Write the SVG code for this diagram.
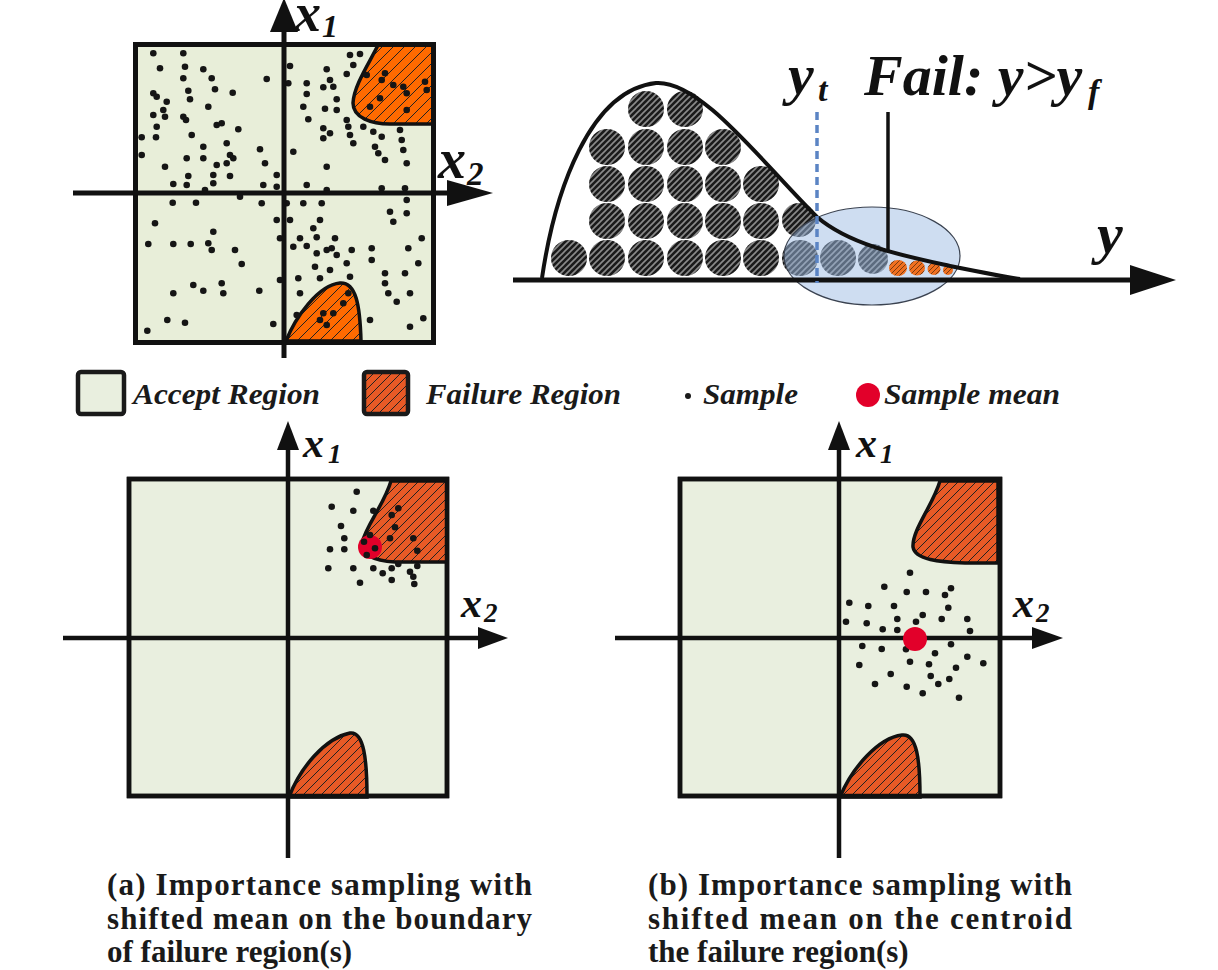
<svg xmlns="http://www.w3.org/2000/svg" width="1218" height="970" viewBox="0 0 1218 970">
<defs>
<style>
.acc{fill:#E9EFDF;stroke:#111;stroke-width:4.5}
.accT{fill:#E8EED9;stroke:#111;stroke-width:5}
.failT{fill:url(#hatchT);stroke:#111;stroke-width:3.5}
.fail{fill:url(#hatchB);stroke:#111;stroke-width:3.5}
.ax{stroke:#111;stroke-width:4.5;fill:none}
.axT{stroke:#111;stroke-width:5;fill:none}
.head{fill:#111}
.dot{fill:#151515}
.dots circle{r:3.3px}
.mean{fill:#E2002A}
.ball{fill:url(#hatchG)}
.blob{fill:url(#hatchO)}
.lbl{font-family:"Liberation Serif","Times New Roman",serif;font-style:italic;font-weight:bold;fill:#111}
.cap{font-family:"Liberation Serif","Times New Roman",serif;font-weight:bold;fill:#1a1a1a;font-size:31px}
.leg{font-family:"Liberation Serif","Times New Roman",serif;font-style:italic;font-weight:bold;fill:#1a1a1a;font-size:30px}
</style>
<pattern id="hatchT" patternUnits="userSpaceOnUse" width="11" height="11">
<rect width="11" height="11" fill="#FF6A00"/>
<path d="M0,11 L11,0 M-3,3 L3,-3 M8,14 L14,8" stroke="#222" stroke-width="1"/>
</pattern>
<pattern id="hatchB" patternUnits="userSpaceOnUse" width="9" height="9">
<rect width="9" height="9" fill="#E85A26"/>
<path d="M0,9 L9,0 M-3,3 L3,-3 M6,12 L12,6" stroke="#222" stroke-width="1"/>
</pattern>
<pattern id="hatchG" patternUnits="userSpaceOnUse" width="6" height="6">
<rect width="6" height="6" fill="#1a1a1a"/>
<path d="M0,6 L6,0 M-3,3 L3,-3 M3,9 L9,3" stroke="#8a8a8a" stroke-width="1.6"/>
</pattern>
<pattern id="hatchO" patternUnits="userSpaceOnUse" width="5" height="5">
<rect width="5" height="5" fill="#F07020"/>
<path d="M0,5 L5,0 M-2,2 L2,-2 M3,7 L7,3" stroke="#7a3a10" stroke-width="1"/>
</pattern>
</defs>
<rect width="1218" height="970" fill="#ffffff"/>

<g id="panel-top-left">
<rect class="accT" x="135.5" y="44.5" width="298" height="298"/>
<path class="failT" d="M378,45 C370,62 354,85 353,103 C353,118 372,124 390,124 L433,124 L433,45 Z"/>
<path class="failT" d="M286,341 C295,318 318,285 340,283 C356,282 360,305 361,341 Z"/>
<rect x="135.5" y="44.5" width="298" height="298" fill="none" stroke="#111" stroke-width="5"/>
<g class="dots">
<circle class="dot" cx="153.3" cy="53.3" r="3.3"/><circle class="dot" cx="183.3" cy="53.3" r="3.3"/><circle class="dot" cx="160" cy="68.3" r="3.3"/><circle class="dot" cx="185" cy="66.7" r="3.3"/><circle class="dot" cx="203.3" cy="69.3" r="3.3"/><circle class="dot" cx="183.3" cy="78.3" r="3.3"/><circle class="dot" cx="211.7" cy="78.3" r="3.3"/><circle class="dot" cx="266.7" cy="79" r="3.3"/><circle class="dot" cx="215" cy="89.3" r="3.3"/><circle class="dot" cx="232.7" cy="92.7" r="3.3"/><circle class="dot" cx="188.3" cy="90.7" r="3.3"/><circle class="dot" cx="153.3" cy="93.3" r="3.3"/><circle class="dot" cx="156.7" cy="96.7" r="3.3"/><circle class="dot" cx="166.7" cy="101.7" r="3.3"/><circle class="dot" cx="190" cy="99.3" r="3.3"/><circle class="dot" cx="208.3" cy="106.7" r="3.3"/><circle class="dot" cx="163.3" cy="110" r="3.3"/><circle class="dot" cx="153.3" cy="115" r="3.3"/><circle class="dot" cx="165" cy="116.7" r="3.3"/><circle class="dot" cx="183.3" cy="116.7" r="3.3"/><circle class="dot" cx="186" cy="120" r="3.3"/><circle class="dot" cx="216.7" cy="125" r="3.3"/><circle class="dot" cx="221.7" cy="123.3" r="3.3"/><circle class="dot" cx="156.7" cy="126.7" r="3.3"/><circle class="dot" cx="238.3" cy="129.3" r="3.3"/><circle class="dot" cx="141.7" cy="137.3" r="3.3"/><circle class="dot" cx="156" cy="137.3" r="3.3"/><circle class="dot" cx="191.7" cy="135" r="3.3"/><circle class="dot" cx="226.7" cy="143.3" r="3.3"/><circle class="dot" cx="203.3" cy="146.7" r="3.3"/><circle class="dot" cx="260" cy="149.3" r="3.3"/><circle class="dot" cx="141.7" cy="155" r="3.3"/><circle class="dot" cx="186.7" cy="158.3" r="3.3"/><circle class="dot" cx="203.3" cy="158.3" r="3.3"/><circle class="dot" cx="230" cy="155" r="3.3"/><circle class="dot" cx="233.3" cy="158.3" r="3.3"/><circle class="dot" cx="226.7" cy="163.3" r="3.3"/><circle class="dot" cx="216.7" cy="165" r="3.3"/><circle class="dot" cx="265" cy="163.3" r="3.3"/><circle class="dot" cx="165" cy="166.7" r="3.3"/><circle class="dot" cx="230" cy="176" r="3.3"/><circle class="dot" cx="213.3" cy="175" r="3.3"/><circle class="dot" cx="188.3" cy="176" r="3.3"/><circle class="dot" cx="276.7" cy="175" r="3.3"/><circle class="dot" cx="173.3" cy="184" r="3.3"/><circle class="dot" cx="186.7" cy="185" r="3.3"/><circle class="dot" cx="213.3" cy="183.3" r="3.3"/><circle class="dot" cx="263.3" cy="185" r="3.3"/><circle class="dot" cx="276.7" cy="186.7" r="3.3"/><circle class="dot" cx="205" cy="190" r="3.3"/><circle class="dot" cx="240" cy="196.7" r="3.3"/><circle class="dot" cx="172.7" cy="202.7" r="3.3"/><circle class="dot" cx="196" cy="202.7" r="3.3"/><circle class="dot" cx="261.7" cy="203.3" r="3.3"/>
<circle class="dot" cx="350" cy="55" r="3.3"/><circle class="dot" cx="360" cy="54" r="3.3"/><circle class="dot" cx="353.3" cy="65" r="3.3"/><circle class="dot" cx="290" cy="66" r="3.3"/><circle class="dot" cx="326.7" cy="69.3" r="3.3"/><circle class="dot" cx="346.7" cy="74" r="3.3"/><circle class="dot" cx="288.3" cy="83.3" r="3.3"/><circle class="dot" cx="306.7" cy="83.3" r="3.3"/><circle class="dot" cx="323.3" cy="87.3" r="3.3"/><circle class="dot" cx="330" cy="80" r="3.3"/><circle class="dot" cx="333.3" cy="86.7" r="3.3"/><circle class="dot" cx="306.7" cy="94" r="3.3"/><circle class="dot" cx="336.7" cy="99.3" r="3.3"/><circle class="dot" cx="303.3" cy="106.7" r="3.3"/><circle class="dot" cx="325" cy="108.7" r="3.3"/><circle class="dot" cx="336.7" cy="110" r="3.3"/><circle class="dot" cx="308.3" cy="119.3" r="3.3"/><circle class="dot" cx="346.7" cy="120" r="3.3"/><circle class="dot" cx="348.3" cy="126.7" r="3.3"/><circle class="dot" cx="323.3" cy="128.3" r="3.3"/><circle class="dot" cx="330" cy="133.3" r="3.3"/><circle class="dot" cx="323.3" cy="138.3" r="3.3"/><circle class="dot" cx="350" cy="135" r="3.3"/><circle class="dot" cx="353.3" cy="143.3" r="3.3"/><circle class="dot" cx="363.3" cy="126.7" r="3.3"/><circle class="dot" cx="373.3" cy="131.7" r="3.3"/><circle class="dot" cx="381.7" cy="136.7" r="3.3"/><circle class="dot" cx="375" cy="146.7" r="3.3"/><circle class="dot" cx="378.3" cy="153.3" r="3.3"/><circle class="dot" cx="385" cy="160" r="3.3"/><circle class="dot" cx="400" cy="130" r="3.3"/><circle class="dot" cx="401.7" cy="140" r="3.3"/><circle class="dot" cx="403.3" cy="150" r="3.3"/><circle class="dot" cx="406.7" cy="163.3" r="3.3"/><circle class="dot" cx="293.3" cy="151.7" r="3.3"/><circle class="dot" cx="326.7" cy="166.7" r="3.3"/><circle class="dot" cx="306.7" cy="185" r="3.3"/><circle class="dot" cx="326.7" cy="190" r="3.3"/><circle class="dot" cx="381.7" cy="188.3" r="3.3"/><circle class="dot" cx="405" cy="188.3" r="3.3"/>
<circle class="dot" cx="366.7" cy="75" r="3.3"/><circle class="dot" cx="385" cy="73.3" r="3.3"/><circle class="dot" cx="381.7" cy="80" r="3.3"/><circle class="dot" cx="393.3" cy="85" r="3.3"/><circle class="dot" cx="403.3" cy="86.7" r="3.3"/><circle class="dot" cx="406.7" cy="93.3" r="3.3"/><circle class="dot" cx="425" cy="81.7" r="3.3"/><circle class="dot" cx="426.7" cy="90" r="3.3"/><circle class="dot" cx="380" cy="98.3" r="3.3"/><circle class="dot" cx="370" cy="106.7" r="3.3"/><circle class="dot" cx="406.7" cy="110" r="3.3"/>
<circle class="dot" cx="286.7" cy="203.3" r="3.3"/><circle class="dot" cx="303.3" cy="203.3" r="3.3"/><circle class="dot" cx="321.7" cy="203.3" r="3.3"/><circle class="dot" cx="276.7" cy="220" r="3.3"/><circle class="dot" cx="290" cy="220" r="3.3"/><circle class="dot" cx="280" cy="238.3" r="3.3"/><circle class="dot" cx="300" cy="238.3" r="3.3"/><circle class="dot" cx="306.7" cy="246" r="3.3"/><circle class="dot" cx="316.7" cy="237.3" r="3.3"/><circle class="dot" cx="335" cy="238.3" r="3.3"/><circle class="dot" cx="331.7" cy="248.3" r="3.3"/><circle class="dot" cx="320" cy="220" r="3.3"/><circle class="dot" cx="313.3" cy="228.3" r="3.3"/><circle class="dot" cx="293.3" cy="246.7" r="3.3"/><circle class="dot" cx="316.7" cy="253.3" r="3.3"/><circle class="dot" cx="326.7" cy="250" r="3.3"/><circle class="dot" cx="336.7" cy="255" r="3.3"/><circle class="dot" cx="351.7" cy="250" r="3.3"/><circle class="dot" cx="371.7" cy="248.3" r="3.3"/><circle class="dot" cx="371.7" cy="260" r="3.3"/><circle class="dot" cx="390" cy="211.7" r="3.3"/><circle class="dot" cx="393.3" cy="221.7" r="3.3"/><circle class="dot" cx="406.7" cy="213.3" r="3.3"/><circle class="dot" cx="406.7" cy="200" r="3.3"/><circle class="dot" cx="421.7" cy="238.3" r="3.3"/><circle class="dot" cx="408.3" cy="248.3" r="3.3"/><circle class="dot" cx="418.3" cy="263.3" r="3.3"/><circle class="dot" cx="405" cy="273.3" r="3.3"/><circle class="dot" cx="385" cy="273.3" r="3.3"/><circle class="dot" cx="385" cy="283.3" r="3.3"/><circle class="dot" cx="388.3" cy="293.3" r="3.3"/><circle class="dot" cx="396.7" cy="301.7" r="3.3"/><circle class="dot" cx="410" cy="293.3" r="3.3"/><circle class="dot" cx="423.3" cy="318.3" r="3.3"/><circle class="dot" cx="410" cy="326.7" r="3.3"/><circle class="dot" cx="370" cy="320" r="3.3"/><circle class="dot" cx="346.7" cy="263.3" r="3.3"/><circle class="dot" cx="350" cy="276.7" r="3.3"/><circle class="dot" cx="348.3" cy="293.3" r="3.3"/><circle class="dot" cx="298.3" cy="278.3" r="3.3"/><circle class="dot" cx="300" cy="293.3" r="3.3"/><circle class="dot" cx="315" cy="266.7" r="3.3"/><circle class="dot" cx="320" cy="278.3" r="3.3"/><circle class="dot" cx="330" cy="270" r="3.3"/><circle class="dot" cx="280" cy="280" r="3.3"/>
<circle class="dot" cx="343.3" cy="303.3" r="3.3"/><circle class="dot" cx="333.3" cy="313.3" r="3.3"/><circle class="dot" cx="323.3" cy="313.3" r="3.3"/><circle class="dot" cx="320" cy="320" r="3.3"/><circle class="dot" cx="326.7" cy="325" r="3.3"/><circle class="dot" cx="296.7" cy="315" r="3.3"/>
<circle class="dot" cx="155" cy="223.3" r="3.3"/><circle class="dot" cx="213.3" cy="231.7" r="3.3"/><circle class="dot" cx="148.3" cy="244" r="3.3"/><circle class="dot" cx="173.3" cy="244" r="3.3"/><circle class="dot" cx="190.7" cy="244" r="3.3"/><circle class="dot" cx="208.3" cy="243.3" r="3.3"/><circle class="dot" cx="211.7" cy="250" r="3.3"/><circle class="dot" cx="235" cy="250" r="3.3"/><circle class="dot" cx="241.7" cy="264" r="3.3"/><circle class="dot" cx="193.3" cy="285" r="3.3"/><circle class="dot" cx="203.3" cy="290.7" r="3.3"/><circle class="dot" cx="221.7" cy="283.3" r="3.3"/><circle class="dot" cx="223.3" cy="293.3" r="3.3"/><circle class="dot" cx="173.3" cy="293.3" r="3.3"/><circle class="dot" cx="259.3" cy="290.7" r="3.3"/><circle class="dot" cx="167.3" cy="320" r="3.3"/><circle class="dot" cx="185" cy="322.7" r="3.3"/><circle class="dot" cx="147.3" cy="330.7" r="3.3"/><circle class="dot" cx="273.3" cy="324" r="3.3"/>
</g>
<line class="axT" x1="284" y1="28" x2="284" y2="358"/>
<polygon class="head" points="284,-2 270,32 298,32"/>
<line class="axT" x1="73" y1="193" x2="450" y2="193"/>
<polygon class="head" points="493,193 447,180 447,206"/>
<text class="lbl" x="294" y="31" font-size="54">x</text>
<text class="lbl" x="322" y="37" font-size="32">1</text>
<text class="lbl" x="438" y="178" font-size="56">x</text>
<text class="lbl" x="467" y="185" font-size="33">2</text>
</g>

<g id="panel-top-right">
<g class="balls">
<circle class="ball" cx="569" cy="258" r="18"/><circle class="ball" cx="607" cy="258" r="18"/><circle class="ball" cx="646" cy="258" r="18"/><circle class="ball" cx="685" cy="258" r="18"/><circle class="ball" cx="723" cy="258" r="18"/><circle class="ball" cx="761" cy="258" r="18"/><circle class="ball" cx="800" cy="258" r="18"/><circle class="ball" cx="838" cy="258" r="18"/><circle class="ball" cx="873" cy="259" r="15"/>
<circle class="ball" cx="607" cy="221" r="18"/><circle class="ball" cx="646" cy="221" r="18"/><circle class="ball" cx="685" cy="221" r="18"/><circle class="ball" cx="723" cy="221" r="18"/><circle class="ball" cx="761" cy="221" r="18"/><circle class="ball" cx="799" cy="220" r="17"/>
<circle class="ball" cx="607" cy="184" r="18"/><circle class="ball" cx="646" cy="184" r="18"/><circle class="ball" cx="685" cy="184" r="18"/><circle class="ball" cx="723" cy="184" r="18"/><circle class="ball" cx="761" cy="184" r="18"/>
<circle class="ball" cx="607" cy="147" r="18"/><circle class="ball" cx="646" cy="147" r="18"/><circle class="ball" cx="685" cy="147" r="18"/><circle class="ball" cx="723" cy="147" r="18"/>
<circle class="ball" cx="646" cy="109" r="18"/><circle class="ball" cx="685" cy="109" r="18"/>
</g>
<ellipse cx="872" cy="256" rx="88" ry="49" fill="#9DBCE3" fill-opacity="0.5" stroke="#3a4250" stroke-width="1.2"/>
<g class="blobs">
<ellipse class="blob" cx="898" cy="268" rx="9" ry="8"/>
<ellipse class="blob" cx="917" cy="268" rx="8" ry="7.5"/>
<ellipse class="blob" cx="934" cy="269" rx="6.5" ry="6"/>
<ellipse class="blob" cx="948" cy="270" rx="5" ry="5"/>
</g>
<path d="M542,278 C555,190 590,90 656,83 C700,80 760,160 817,217 C850,245 900,255 950,266 C985,273 1005,277 1020,279" fill="none" stroke="#111" stroke-width="4"/>
<line x1="513" y1="280" x2="1135" y2="280" stroke="#111" stroke-width="5"/>
<polygon class="head" points="1176,280 1130,265 1130,295"/>
<line x1="888" y1="112" x2="888" y2="251" stroke="#111" stroke-width="3.5"/>
<line x1="817" y1="112" x2="817" y2="283" stroke="#5B84C4" stroke-width="3.5" stroke-dasharray="8,5"/>
<text class="lbl" x="788" y="94" font-size="58" font-weight="normal">y</text>
<text class="lbl" x="818" y="101" font-size="34" font-weight="normal">t</text>
<text class="lbl" x="864" y="95" font-size="58">Fail: y&gt;y</text>
<text class="lbl" x="1088" y="103" font-size="34">f</text>
<text class="lbl" x="1097" y="253" font-size="58" font-weight="normal">y</text>
</g>

<g id="legend">
<rect x="78" y="372" width="46" height="42" rx="3" fill="#E9EFDF" stroke="#1a1a1a" stroke-width="4.5"/>
<text class="leg" x="133" y="404" textLength="187" lengthAdjust="spacingAndGlyphs">Accept Region</text>
<rect x="364" y="372" width="44" height="42" rx="3" fill="url(#hatchB)" stroke="#1a1a1a" stroke-width="4.5"/>
<text class="leg" x="426" y="404" textLength="195" lengthAdjust="spacingAndGlyphs">Failure Region</text>
<circle cx="688" cy="396" r="3" fill="#1a1a1a"/>
<text class="leg" x="703" y="404" textLength="95" lengthAdjust="spacingAndGlyphs">Sample</text>
<circle cx="868" cy="395" r="12" fill="#E2002A"/>
<text class="leg" x="884" y="404" textLength="176" lengthAdjust="spacingAndGlyphs">Sample mean</text>
</g>

<g id="panel-a">
<rect class="acc" x="129" y="479" width="318" height="317"/>
<path class="fail" d="M391,481 C384,505 366,525 362,543 C362,556 375,561 395,562 L447,562 L447,481 Z"/>
<path class="fail" d="M289,797 C300,768 325,738 350,733 C364,731 367,760 367,797 Z"/>
<rect x="129" y="479" width="318" height="317" fill="none" stroke="#111" stroke-width="4.5"/>
<circle class="mean" cx="370" cy="547" r="12"/>
<g class="dots">
<circle class="dot" cx="356.7" cy="491.7" r="3.4"/><circle class="dot" cx="331.7" cy="506.7" r="3.4"/><circle class="dot" cx="353.3" cy="510.7" r="3.4"/><circle class="dot" cx="373.3" cy="510.7" r="3.4"/><circle class="dot" cx="391.7" cy="515" r="3.4"/><circle class="dot" cx="398.3" cy="508.3" r="3.4"/><circle class="dot" cx="341" cy="526" r="3.4"/><circle class="dot" cx="395" cy="527.3" r="3.4"/><circle class="dot" cx="344.3" cy="538.3" r="3.4"/><circle class="dot" cx="330" cy="549.3" r="3.4"/><circle class="dot" cx="344.3" cy="549.3" r="3.4"/><circle class="dot" cx="370" cy="535" r="3.4"/><circle class="dot" cx="390" cy="538.3" r="3.4"/><circle class="dot" cx="413.3" cy="538.3" r="3.4"/><circle class="dot" cx="364" cy="541.7" r="3.4"/><circle class="dot" cx="375" cy="548.3" r="3.4"/><circle class="dot" cx="366.7" cy="555" r="3.4"/><circle class="dot" cx="417.3" cy="550.7" r="3.4"/><circle class="dot" cx="328.3" cy="568.3" r="3.4"/><circle class="dot" cx="353.3" cy="568.3" r="3.4"/><circle class="dot" cx="373.3" cy="568.3" r="3.4"/><circle class="dot" cx="382.7" cy="573.3" r="3.4"/><circle class="dot" cx="391.7" cy="568.3" r="3.4"/><circle class="dot" cx="398.3" cy="564" r="3.4"/><circle class="dot" cx="410" cy="571.7" r="3.4"/><circle class="dot" cx="413.3" cy="576.7" r="3.4"/><circle class="dot" cx="417.3" cy="566" r="3.4"/><circle class="dot" cx="391.7" cy="580" r="3.4"/><circle class="dot" cx="414.3" cy="584" r="3.4"/><circle class="dot" cx="360" cy="582.7" r="3.4"/>
</g>
<line class="ax" x1="288" y1="446" x2="288" y2="858"/>
<polygon class="head" points="288,421 277,450 299,450"/>
<line class="ax" x1="63" y1="638" x2="482" y2="638"/>
<polygon class="head" points="508,638 478,627 478,649"/>
<text class="lbl" x="303" y="457" font-size="42">x</text>
<text class="lbl" x="328" y="463" font-size="27">1</text>
<text class="lbl" x="461" y="617" font-size="42">x</text>
<text class="lbl" x="484" y="622" font-size="27">2</text>
</g>

<g id="panel-b">
<rect class="acc" x="680" y="479" width="320" height="317"/>
<path class="fail" d="M940,481 C933,505 912,530 913,547 C915,560 940,562 965,563 L998,563 L998,481 Z"/>
<path class="fail" d="M840,797 C852,768 878,738 902,735 C917,733 920,760 920,797 Z"/>
<rect x="680" y="479" width="320" height="317" fill="none" stroke="#111" stroke-width="4.5"/>
<g class="dots">
<circle class="dot" cx="910" cy="572.7" r="3.4"/><circle class="dot" cx="884.3" cy="586.7" r="3.4"/><circle class="dot" cx="951" cy="588.3" r="3.4"/><circle class="dot" cx="906.7" cy="592" r="3.4"/><circle class="dot" cx="926" cy="592" r="3.4"/><circle class="dot" cx="945" cy="595" r="3.4"/><circle class="dot" cx="849.3" cy="602.7" r="3.4"/><circle class="dot" cx="868.3" cy="606" r="3.4"/><circle class="dot" cx="894" cy="606" r="3.4"/><circle class="dot" cx="948.3" cy="607.7" r="3.4"/><circle class="dot" cx="922.7" cy="615" r="3.4"/><circle class="dot" cx="846" cy="621.7" r="3.4"/><circle class="dot" cx="866.7" cy="623.3" r="3.4"/><circle class="dot" cx="897.3" cy="619" r="3.4"/><circle class="dot" cx="916" cy="621.7" r="3.4"/><circle class="dot" cx="941.7" cy="619" r="3.4"/><circle class="dot" cx="967.3" cy="619" r="3.4"/><circle class="dot" cx="882.7" cy="629.3" r="3.4"/><circle class="dot" cx="897.3" cy="630" r="3.4"/><circle class="dot" cx="970" cy="631" r="3.4"/><circle class="dot" cx="862.3" cy="646" r="3.4"/><circle class="dot" cx="881.7" cy="649" r="3.4"/><circle class="dot" cx="906" cy="649.3" r="3.4"/><circle class="dot" cx="951" cy="644.3" r="3.4"/><circle class="dot" cx="935" cy="653.3" r="3.4"/><circle class="dot" cx="967.3" cy="656.7" r="3.4"/><circle class="dot" cx="859.3" cy="665" r="3.4"/><circle class="dot" cx="910" cy="661.7" r="3.4"/><circle class="dot" cx="929" cy="664.3" r="3.4"/><circle class="dot" cx="983.3" cy="663.3" r="3.4"/><circle class="dot" cx="956" cy="667.7" r="3.4"/><circle class="dot" cx="890.7" cy="674" r="3.4"/><circle class="dot" cx="930.7" cy="676" r="3.4"/><circle class="dot" cx="949.3" cy="679" r="3.4"/><circle class="dot" cx="938.3" cy="684" r="3.4"/><circle class="dot" cx="875" cy="684" r="3.4"/><circle class="dot" cx="906.7" cy="686.7" r="3.4"/><circle class="dot" cx="922.7" cy="693.3" r="3.4"/><circle class="dot" cx="959" cy="697.7" r="3.4"/>
</g>
<line class="ax" x1="839" y1="446" x2="839" y2="858"/>
<polygon class="head" points="839,421 828,450 850,450"/>
<line class="ax" x1="615" y1="638" x2="1036" y2="638"/>
<polygon class="head" points="1063,638 1032,627 1032,649"/>
<circle class="mean" cx="915" cy="639" r="12"/>
<text class="lbl" x="856" y="457" font-size="42">x</text>
<text class="lbl" x="880" y="463" font-size="27">1</text>
<text class="lbl" x="1013" y="617" font-size="42">x</text>
<text class="lbl" x="1036" y="622" font-size="27">2</text>
</g>

<g id="captions">
<text class="cap" x="107" y="895" textLength="425" lengthAdjust="spacing">(a) Importance sampling with</text>
<text class="cap" x="107" y="929" textLength="425" lengthAdjust="spacing">shifted mean on the boundary</text>
<text class="cap" x="107" y="962">of failure region(s)</text>
<text class="cap" x="648" y="895" textLength="424" lengthAdjust="spacing">(b) Importance sampling with</text>
<text class="cap" x="648" y="929" textLength="424" lengthAdjust="spacing">shifted mean on the centroid</text>
<text class="cap" x="648" y="962">the failure region(s)</text>
</g>
</svg>
